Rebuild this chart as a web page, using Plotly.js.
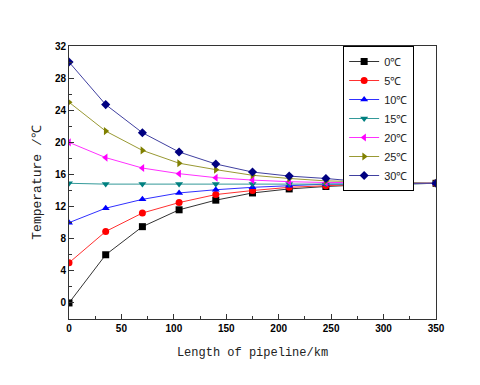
<!DOCTYPE html>
<html>
<head>
<meta charset="utf-8">
<script src="https://cdn.plot.ly/plotly-3.0.1.min.js"></script>
<style>body{margin:0;background:#fff}</style>
</head>
<body>
<div id="chart" style="width:480px;height:385px;"></div>
<script>
    // distance along the pipeline (km)
    const lengthKm = [0, 35, 70, 105, 140, 175, 210, 245, 280, 315, 350];

    // inlet temperature series
    const t0 = [0, 6.0, 9.5, 11.6, 12.8, 13.7, 14.2, 14.5, 14.7, 14.8, 14.9];
    const t5 = [5, 8.9, 11.2, 12.5, 13.5, 14.0, 14.4, 14.6, 14.8, 14.9, 14.9];
    const t10 = [10, 11.8, 12.9, 13.7, 14.1, 14.4, 14.6, 14.8, 14.8, 14.9, 14.9];
    const t15 = [14.9, 14.8, 14.8, 14.8, 14.8, 14.8, 14.8, 14.8, 14.8, 14.8, 14.9];
    const t20 = [20, 18.1, 16.8, 16.1, 15.6, 15.3, 15.1, 15.0, 15.0, 14.9, 14.9];
    const t25 = [25, 21.4, 19.0, 17.4, 16.6, 15.9, 15.5, 15.2, 15.1, 15.0, 14.9];
    const t30 = [30, 24.7, 21.2, 18.8, 17.3, 16.3, 15.8, 15.5, 15.1, 14.9, 14.9];

    const seriesNames = ['0℃', '5℃', '10℃', '15℃', '20℃', '25℃', '30℃'];
    const seriesData = [t0, t5, t10, t15, t20, t25, t30];
    const lineColors = ['#333333', '#ff3030', '#3030ff', '#339999', '#ff30ff', '#999933', '#4040a0'];
    const markerColors = ['#000000', '#ff0000', '#0000ff', '#008080', '#ff00ff', '#808000', '#000080'];
    const symbols = ['square', 'circle', 'triangle-up', 'triangle-down', 'triangle-left', 'triangle-right', 'diamond'];

    const traces = seriesData.map((ys, i) => ({
        x: lengthKm,
        y: ys,
        name: seriesNames[i],
        type: 'scatter',
        mode: 'lines+markers',
        line: { color: lineColors[i], width: 1 },
        marker: { symbol: symbols[i], color: markerColors[i], size: 7 }
    }));

    const tickFont = { family: 'Liberation Sans, Arial', size: 10, color: '#000' };

    const layout = {
        width: 480,
        height: 385,
        margin: { l: 69, r: 44, t: 46, b: 66 },
        paper_bgcolor: '#fff',
        plot_bgcolor: '#fff',
        showlegend: true,
        legend: {
            x: 0.747, y: 1, xanchor: 'left', yanchor: 'top',
            bgcolor: '#fff', bordercolor: '#000', borderwidth: 1,
            font: { family: 'Liberation Sans, Arial', size: 11, color: '#222' },
            tracegroupgap: 0
        },
        xaxis: {
            range: [0, 350],
            tickvals: [0, 50, 100, 150, 200, 250, 300, 350],
            ticks: 'inside', ticklen: 5, tickcolor: '#333',
            minor: { dtick: 25, ticks: 'inside', ticklen: 3, tickcolor: '#333' },
            showline: true, linecolor: '#333', linewidth: 1, mirror: true,
            showgrid: false, zeroline: false,
            tickfont: Object.assign({ weight: 'bold' }, tickFont),
            title: {
                text: 'Length of pipeline/km',
                font: { family: 'Liberation Mono', size: 12, color: '#222' },
                standoff: 14
            }
        },
        yaxis: {
            range: [-2, 32],
            tickvals: [0, 4, 8, 12, 16, 20, 24, 28, 32],
            ticks: 'inside', ticklen: 5, tickcolor: '#333',
            minor: { dtick: 2, ticks: 'inside', ticklen: 3, tickcolor: '#333' },
            showline: true, linecolor: '#333', linewidth: 1, mirror: true,
            showgrid: false, zeroline: false,
            tickfont: Object.assign({ weight: 'bold' }, tickFont),
            title: {
                text: 'Temperature /℃',
                font: { family: 'Liberation Mono', size: 13, color: '#222' },
                standoff: 10
            }
        }
    };

    Plotly.newPlot('chart', traces, layout, { displayModeBar: false, staticPlot: true });
</script>
</body>
</html>
